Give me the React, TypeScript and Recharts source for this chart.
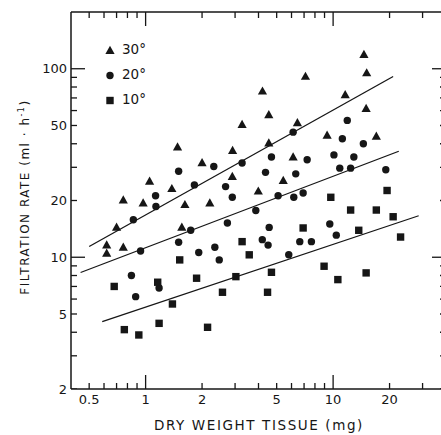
import { ScatterChart, Scatter, XAxis, YAxis, Legend } from "recharts";

// dry weight (mg), filtration rate (ml/h)
const points30: [number, number][] = [
  [0.62, 11.6], [0.62, 10.5], [0.7, 14.4], [0.76, 11.3], [0.76, 20.1],
  [0.97, 19.4], [1.05, 25.3], [1.38, 23.1], [1.48, 38.4], [1.56, 14.4],
  [1.62, 19.0], [2.0, 31.7], [2.2, 19.4], [2.91, 36.8], [2.9, 26.8],
  [3.27, 50.6], [3.99, 22.4], [4.2, 76], [4.54, 57], [4.54, 40.3],
  [5.42, 25.5], [6.12, 34.0], [6.45, 51.6], [7.12, 91], [9.29, 44.3],
  [11.6, 72.8], [14.6, 119], [15.1, 95], [15.0, 61.4], [17.0, 43.8],
];

const points20: [number, number][] = [
  [0.86, 15.8], [0.94, 10.8], [0.84, 8.0], [0.885, 6.18], [1.13, 21.2],
  [1.135, 18.6], [1.18, 6.87], [1.5, 28.6], [1.5, 12.0], [1.74, 13.9],
  [1.82, 24.2], [1.92, 10.6], [2.31, 30.3], [2.34, 11.3], [2.47, 9.68],
  [2.67, 23.7], [2.73, 15.2], [2.9, 20.8], [3.27, 31.6], [3.87, 17.7],
  [4.19, 12.4], [4.36, 28.2], [4.5, 11.6], [4.56, 14.4], [4.69, 34.0],
  [5.09, 21.2], [5.8, 10.3], [6.12, 46.1], [6.17, 20.8], [6.32, 27.7],
  [6.64, 12.1], [6.92, 21.9], [7.27, 32.9], [7.66, 12.1], [9.6, 15.0],
  [10.1, 34.9], [10.4, 13.1], [10.85, 29.7], [11.2, 42.5], [11.9, 53.2],
  [12.4, 29.7], [12.9, 34.0], [14.5, 40.0], [19.1, 29.1],
];

const points10: [number, number][] = [
  [0.68, 7.0], [0.77, 4.13], [0.92, 3.87], [1.16, 7.37], [1.18, 4.46],
  [1.39, 5.65], [1.52, 9.68], [1.87, 7.74], [2.14, 4.25], [2.57, 6.52],
  [3.03, 7.89], [3.27, 12.1], [3.57, 10.3], [4.47, 6.52], [4.69, 8.32],
  [6.92, 14.3], [8.95, 8.96], [9.72, 20.8], [10.6, 7.61], [12.4, 17.8],
  [13.7, 13.9], [15.0, 8.26], [17.0, 17.8], [19.4, 22.6], [20.9, 16.4],
  [22.9, 12.8],
];

// fitted regression lines, end points
const fit30: [number, number][] = [[0.5, 11.4], [20.9, 91]];
const fit20: [number, number][] = [[0.45, 8.3], [22.4, 36.5]];
const fit10: [number, number][] = [[0.587, 4.55], [28.6, 16.6]];

const xTicks = [0.5, 0.6, 0.7, 0.8, 0.9, 1, 2, 3, 4, 5, 6, 7, 8, 9, 10, 20, 30];
const xLabels = [0.5, 1, 2, 5, 10, 20];
const yTicks = [2, 3, 4, 5, 6, 7, 8, 9, 10, 20, 30, 40, 50, 60, 70, 80, 90, 100];
const yLabels = [2, 5, 10, 20, 50, 100];
const decades = [1, 10, 100];
const legendOrder = ["30°", "20°", "10°"];

const X_DOMAIN: [number, number] = [0.4, 40];
const Y_DOMAIN: [number, number] = [2, 200];

const INK = "#161616";
const FONT = "'DejaVu Sans', sans-serif";
const MINOR = 6;
const MAJOR = 14;

const toRows = (pts: [number, number][]) => pts.map(([w, r]) => ({ w, r }));

const isDecade = (v: number) => decades.includes(v);

// tick marks sit on the frame edges, placed through the chart's own scales
const bottomMarks = xTicks.map((w) => ({ w, r: Y_DOMAIN[0] }));
const topMarks = xTicks.map((w) => ({ w, r: Y_DOMAIN[1] }));
const leftMarks = yTicks.map((r) => ({ w: X_DOMAIN[0], r }));
const rightMarks = yTicks.map((r) => ({ w: X_DOMAIN[1], r }));

const markLen = (v: number) => (isDecade(v) ? MAJOR : MINOR);

const tickShape = (side: "bottom" | "top" | "left" | "right") => (p: any) => {
  const row = p.payload || {};
  const { cx, cy } = p;
  let d = "";
  if (side === "bottom") d = `M${cx},${cy}V${cy - markLen(row.w)}`;
  if (side === "top") d = `M${cx},${cy}V${cy + markLen(row.w)}`;
  if (side === "left") d = `M${cx},${cy}H${cx + markLen(row.r)}`;
  if (side === "right") d = `M${cx},${cy}H${cx - markLen(row.r)}`;
  return <path d={d} stroke={INK} strokeWidth={1.3} fill="none" />;
};

function BottomLabel({ x, y, payload }: any) {
  const v = payload.value;
  if (!xLabels.includes(v)) return <g />;
  return (
    <text x={x} y={y + 15} textAnchor="middle" fontSize={13} fontFamily={FONT} fill={INK}>
      {String(v)}
    </text>
  );
}

function LeftLabel({ x, y, payload }: any) {
  const v = payload.value;
  if (!yLabels.includes(v)) return <g />;
  return (
    <text x={x - 4} y={y + 4.7} textAnchor="end" fontSize={13} fontFamily={FONT} fill={INK}>
      {String(v)}
    </text>
  );
}

function Marker({ kind, cx, cy }: { kind: string; cx: number; cy: number }) {
  if (kind === "triangle") {
    return (
      <polygon
        points={`${cx},${cy - 4.8} ${cx - 4.6},${cy + 3.4} ${cx + 4.6},${cy + 3.4}`}
        fill={INK}
      />
    );
  }
  if (kind === "circle") return <circle cx={cx} cy={cy} r={3.7} fill={INK} />;
  return <rect x={cx - 3.7} y={cy - 3.7} width={7.4} height={7.4} fill={INK} />;
}

const legendKinds: Record<string, string> = { "30°": "triangle", "20°": "circle", "10°": "square" };

const renderLegend = (props: any) => {
  const items = (props.payload || [])
    .filter((p: any) => legendKinds[p.value])
    .sort((a: any, b: any) => legendOrder.indexOf(a.value) - legendOrder.indexOf(b.value));
  return (
    <div>
      {items.map((p: any) => (
        <div key={p.value} style={{ display: "flex", alignItems: "center", height: 25 }}>
          <svg width={12} height={12}>
            <Marker kind={legendKinds[p.value]} cx={6} cy={6.5} />
          </svg>
          <span style={{ marginLeft: 6, fontSize: 13.5, fontFamily: FONT, color: INK, lineHeight: "25px" }}>
            {p.value}
          </span>
        </div>
      ))}
    </div>
  );
};

function XTitle() {
  return (
    <text x={259} y={430} textAnchor="middle" fontSize={13.5} fontFamily={FONT} letterSpacing={1.6} fill={INK}>
      DRY WEIGHT TISSUE (mg)
    </text>
  );
}

function YTitle() {
  return (
    <text
      x={29}
      y={197}
      transform="rotate(-90 29 197)"
      textAnchor="middle"
      fontSize={12}
      fontFamily={FONT}
      letterSpacing={1.5}
      fill={INK}
    >
      FILTRATION RATE (ml · h
      <tspan dy={-5} fontSize={8}>-1</tspan>
      <tspan dy={5}>)</tspan>
    </text>
  );
}

const noDot = () => <g />;

const axisCommon = {
  type: "number" as const,
  scale: "log" as const,
  allowDataOverflow: true,
  interval: 0 as const,
  tickSize: 0,
  tickMargin: 0,
  tickLine: false,
  axisLine: { stroke: INK, strokeWidth: 1.5 },
};

export default function App() {
  return (
    <div style={{ position: "absolute", left: 0, top: 0 }}>
      {/* right margin is negative: the frame's right edge sits just past the window */}
      <ScatterChart width={441} height={435} margin={{ top: 10, right: -5, left: 11, bottom: 16 }}>
        <XAxis
          {...axisCommon}
          dataKey="w"
          domain={X_DOMAIN}
          ticks={xTicks}
          tick={<BottomLabel />}
          height={30}
          label={<XTitle />}
        />
        <XAxis
          {...axisCommon}
          xAxisId="top"
          dataKey="w"
          orientation="top"
          domain={X_DOMAIN}
          ticks={xTicks}
          tick={false}
          height={2}
        />
        <YAxis
          {...axisCommon}
          dataKey="r"
          domain={Y_DOMAIN}
          ticks={yTicks}
          tick={<LeftLabel />}
          width={60}
          label={<YTitle />}
        />
        <Legend
          layout="vertical"
          align="center"
          verticalAlign="middle"
          content={renderLegend}
          wrapperStyle={{ left: 104, top: 37, width: 60, height: 80 }}
        />
        <Scatter name="tb" data={bottomMarks} legendType="none" shape={tickShape("bottom")} isAnimationActive={false} />
        <Scatter name="tt" data={topMarks} legendType="none" shape={tickShape("top")} isAnimationActive={false} />
        <Scatter name="tl" data={leftMarks} legendType="none" shape={tickShape("left")} isAnimationActive={false} />
        <Scatter name="tr" data={rightMarks} legendType="none" shape={tickShape("right")} isAnimationActive={false} />
        <Scatter
          name="30°"
          data={toRows(points30)}
          isAnimationActive={false}
          shape={(p: any) => <Marker kind="triangle" cx={p.cx} cy={p.cy} />}
        />
        <Scatter
          name="20°"
          data={toRows(points20)}
          isAnimationActive={false}
          shape={(p: any) => <Marker kind="circle" cx={p.cx} cy={p.cy} />}
        />
        <Scatter
          name="10°"
          data={toRows(points10)}
          isAnimationActive={false}
          shape={(p: any) => <Marker kind="square" cx={p.cx} cy={p.cy} />}
        />
        <Scatter
          name="fit30"
          data={toRows(fit30)}
          legendType="none"
          line={{ stroke: INK, strokeWidth: 1.3 }}
          shape={noDot}
          isAnimationActive={false}
        />
        <Scatter
          name="fit20"
          data={toRows(fit20)}
          legendType="none"
          line={{ stroke: INK, strokeWidth: 1.3 }}
          shape={noDot}
          isAnimationActive={false}
        />
        {/* same domain as the bottom axis; binds the frame's top axis */}
        <Scatter
          name="fit10"
          xAxisId="top"
          data={toRows(fit10)}
          legendType="none"
          line={{ stroke: INK, strokeWidth: 1.3 }}
          shape={noDot}
          isAnimationActive={false}
        />
      </ScatterChart>
    </div>
  );
}
